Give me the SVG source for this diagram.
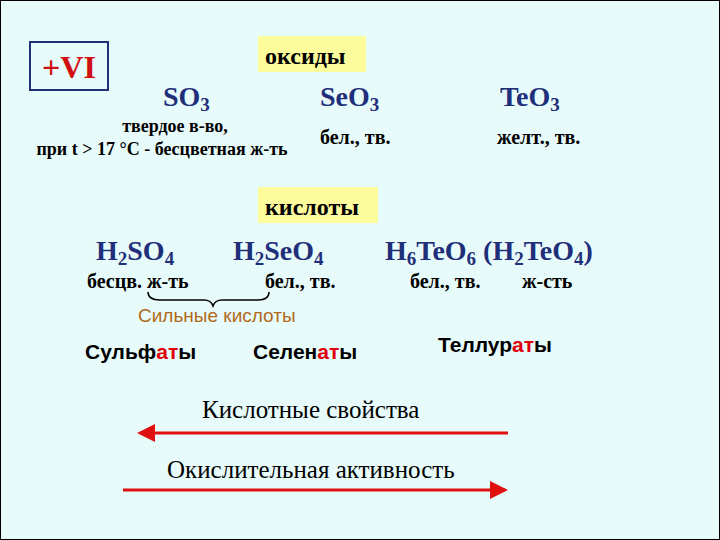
<svg xmlns="http://www.w3.org/2000/svg" width="720" height="540" viewBox="0 0 720 540">
<style>
.f{font-family:"Liberation Serif",serif;font-weight:bold;fill:#1f2f7a}
.b{font-family:"Liberation Serif",serif;font-weight:bold;fill:#000;font-size:20px}
.s{font-family:"Liberation Sans",sans-serif;font-size:21px;font-weight:bold;fill:#000}
.r{fill:#e0000a}
.l{font-family:"Liberation Serif",serif;font-size:25px;fill:#000}
</style>
<defs>
<marker id="ah" markerWidth="6" markerHeight="6" refX="5" refY="3" orient="auto" markerUnits="strokeWidth"><path d="M0,0 L6,3 L0,6 z" fill="#e01010"/></marker>
</defs>
<rect x="0" y="0" width="720" height="540" fill="#e8fbfb" stroke="#000" stroke-width="2"/>
<g id="vi"><rect x="30" y="42" width="78" height="48" fill="none" stroke="#1f2f7a" stroke-width="2"/><text x="69" y="78" text-anchor="middle" font-family="Liberation Serif,serif" font-weight="bold" font-size="32" fill="#d01010">+VI</text></g>
<g id="oxides"><rect x="258" y="36" width="108" height="36" fill="#fdfc9c"/><text x="265" y="64" class="b" style="font-size:24px">оксиды</text></g>
<g id="acids"><rect x="258" y="187" width="120" height="36" fill="#fdfc9c"/><text x="265" y="215" class="b" style="font-size:24px">кислоты</text></g>
<g id="so3"><text x="163" y="106" class="f" font-size="28">SO<tspan font-size="19" dy="5">3</tspan></text>
<text x="175" y="132" class="b" text-anchor="middle" style="font-size:18px">твердое в-во,</text>
<text x="162" y="155" class="b" text-anchor="middle" style="font-size:18px">при t &gt; 17 °C - бесцветная ж-ть</text></g>
<g id="seo3"><text x="320" y="106" class="f" font-size="28">SeO<tspan font-size="19" dy="5">3</tspan></text>
<text x="320" y="144" class="b">бел., тв.</text></g>
<g id="teo3"><text x="500" y="106" class="f" font-size="28">TeO<tspan font-size="19" dy="5">3</tspan></text>
<text x="497" y="144" class="b">желт., тв.</text></g>
<g id="h2so4"><text x="96" y="260" class="f" font-size="28">H<tspan font-size="19" dy="5">2</tspan><tspan dy="-5">SO</tspan><tspan font-size="19" dy="5">4</tspan></text>
<text x="87" y="288" class="b">бесцв. ж-ть</text></g>
<g id="h2seo4"><text x="233" y="260" class="f" font-size="28">H<tspan font-size="19" dy="5">2</tspan><tspan dy="-5">SeO</tspan><tspan font-size="19" dy="5">4</tspan></text>
<text x="265" y="288" class="b">бел., тв.</text></g>
<g id="h6teo6"><text x="385" y="260" class="f" font-size="28">H<tspan font-size="19" dy="5">6</tspan><tspan dy="-5">TeO</tspan><tspan font-size="19" dy="5">6</tspan><tspan dy="-5"> (H</tspan><tspan font-size="19" dy="5">2</tspan><tspan dy="-5">TeO</tspan><tspan font-size="19" dy="5">4</tspan><tspan dy="-5">)</tspan></text>
<text x="410" y="288" class="b">бел., тв.</text><text x="522" y="288" class="b">ж-сть</text></g>
<g id="strong"><path d="M148,292 Q148,300 160,300 L204,300 Q211,300 213,306 Q215,300 222,300 L258,300 Q269,300 269,292" fill="none" stroke="#000" stroke-width="1.5"/>
<text x="138" y="322" font-family="Liberation Sans,sans-serif" font-size="19" fill="#b06a1a">Сильные кислоты</text></g>
<g id="salts"><text x="85" y="359" class="s">Сульф<tspan class="r">ат</tspan>ы</text>
<text x="253" y="359" class="s">Селен<tspan class="r">ат</tspan>ы</text>
<text x="438" y="352" class="s">Теллур<tspan class="r">ат</tspan>ы</text></g>
<g id="labels"><text x="202" y="418" class="l">Кислотные свойства</text>
<text x="167" y="478" class="l">Окислительная активность</text></g>
<g id="connectors" stroke="#e01010" stroke-width="3" fill="none">
<line x1="508" y1="433" x2="140" y2="433" marker-end="url(#ah)"/>
<line x1="123" y1="490" x2="505" y2="490" marker-end="url(#ah)"/>
</g>
</svg>
